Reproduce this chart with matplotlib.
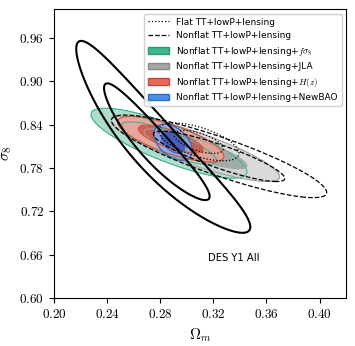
import numpy as np
import matplotlib
matplotlib.use('Agg')
import matplotlib.pyplot as plt
from matplotlib.lines import Line2D
from matplotlib.patches import Patch
from matplotlib.ticker import FuncFormatter

plt.rcParams['mathtext.fontset'] = 'cm'
plt.rcParams['font.family'] = ['DejaVu Sans']

# gaussian approximations of the posteriors: [Om mean, s8 mean], [Om sd, s8 sd], rho
flat_mean = [0.309, 0.816]
flat_sd = [0.0122, 0.0105]
flat_rho = -0.6

nonflat_mean = [0.3243, 0.796]
nonflat_sd = [0.0326, 0.0230]
nonflat_rho = -0.874

fs8_mean = [0.2866, 0.8142]
fs8_sd = [0.0236, 0.0195]
fs8_rho = -0.82

jla_mean = [0.3065, 0.8065]
jla_sd = [0.0255, 0.0182]
jla_rho = -0.852

hz_mean = [0.2879, 0.8198]
hz_sd = [0.0161, 0.0127]
hz_rho = -0.75

bao_mean = [0.2897, 0.8156]
bao_sd = [0.0058, 0.0101]
bao_rho = -0.45

# DES Y1 All: gaussian in (ln Om, ln s8)
des_center = [0.2746, 0.8122]
des_logsd = [0.0951, 0.0655]
des_rho = -0.928

labels = ['Flat TT+lowP+lensing',
          'Nonflat TT+lowP+lensing',
          r'Nonflat TT+lowP+lensing+$f\sigma_8$',
          'Nonflat TT+lowP+lensing+JLA',
          r'Nonflat TT+lowP+lensing+$H(z)$',
          'Nonflat TT+lowP+lensing+NewBAO']

levels = [2.30, 6.18]   # 68% and 95% for 2 params

om = np.linspace(0.2, 0.42, 500)
s8 = np.linspace(0.6, 1.0, 500)
X, Y = np.meshgrid(om, s8)


def chi2(x, y, mean, sd, rho):
    dx = (x - mean[0]) / sd[0]
    dy = (y - mean[1]) / sd[1]
    return (dx**2 - 2*rho*dx*dy + dy**2) / (1 - rho**2)


fig = plt.figure(figsize=(3.55, 3.46), dpi=100)
ax = fig.add_axes([0.152, 0.139, 0.823, 0.835])

fills = [(fs8_mean, fs8_sd, fs8_rho, '#3cb68a', '#9fd9c1'),
         (jla_mean, jla_sd, jla_rho, '#a2a2a2', '#d4d4d4'),
         (hz_mean, hz_sd, hz_rho, '#d4503f', '#eda195'),
         (bao_mean, bao_sd, bao_rho, '#2f5fcc', '#8eaae8')]
for mean, sd, rho, c_in, c_out in fills:
    Z = chi2(X, Y, mean, sd, rho)
    ax.contourf(X, Y, Z, levels=[0, levels[0], levels[1]], colors=[c_in, c_out], alpha=0.85)
    ax.contour(X, Y, Z, levels=levels, colors=[c_in], linewidths=0.8)

Z = chi2(X, Y, flat_mean, flat_sd, flat_rho)
ax.contour(X, Y, Z, levels=levels, colors='k', linewidths=0.9, linestyles=':')
Z = chi2(X, Y, nonflat_mean, nonflat_sd, nonflat_rho)
ax.contour(X, Y, Z, levels=levels, colors='k', linewidths=0.9, linestyles='--')

Z = chi2(np.log(X), np.log(Y), np.log(des_center), des_logsd, des_rho)
ax.contour(X, Y, Z, levels=levels, colors='k', linewidths=1.5, linestyles='-')

ax.text(0.3163, 0.651, 'DES Y1 All', fontsize=7.2)

ax.set_xlim(0.2, 0.42)
ax.set_ylim(0.6, 1.0)
ax.set_xticks(np.arange(0.20, 0.401, 0.04))
ax.set_yticks(np.arange(0.60, 0.961, 0.06))
fmt = FuncFormatter(lambda v, p: r'$%.2f$' % v)
ax.xaxis.set_major_formatter(fmt)
ax.yaxis.set_major_formatter(fmt)
ax.tick_params(labelsize=9.5, length=3.5)
ax.set_xlabel(r'$\Omega_m$', fontsize=11)
ax.set_ylabel(r'$\sigma_8$', fontsize=11)

handles = [Line2D([], [], color='k', ls=':', lw=0.9),
           Line2D([], [], color='k', ls='--', lw=0.9),
           Patch(facecolor='#3cb68a', edgecolor='#2a9a70'),
           Patch(facecolor='#a6a6a6', edgecolor='#888888'),
           Patch(facecolor='#e8675a', edgecolor='#cc4a3e'),
           Patch(facecolor='#4a8fe6', edgecolor='#2f70c8')]
ax.legend(handles, labels, loc='upper right', fontsize=6.5, handlelength=2.3,
          labelspacing=0.5, borderpad=0.45, framealpha=0.9, edgecolor='#cccccc')

fig.savefig('out.png', dpi=100)
